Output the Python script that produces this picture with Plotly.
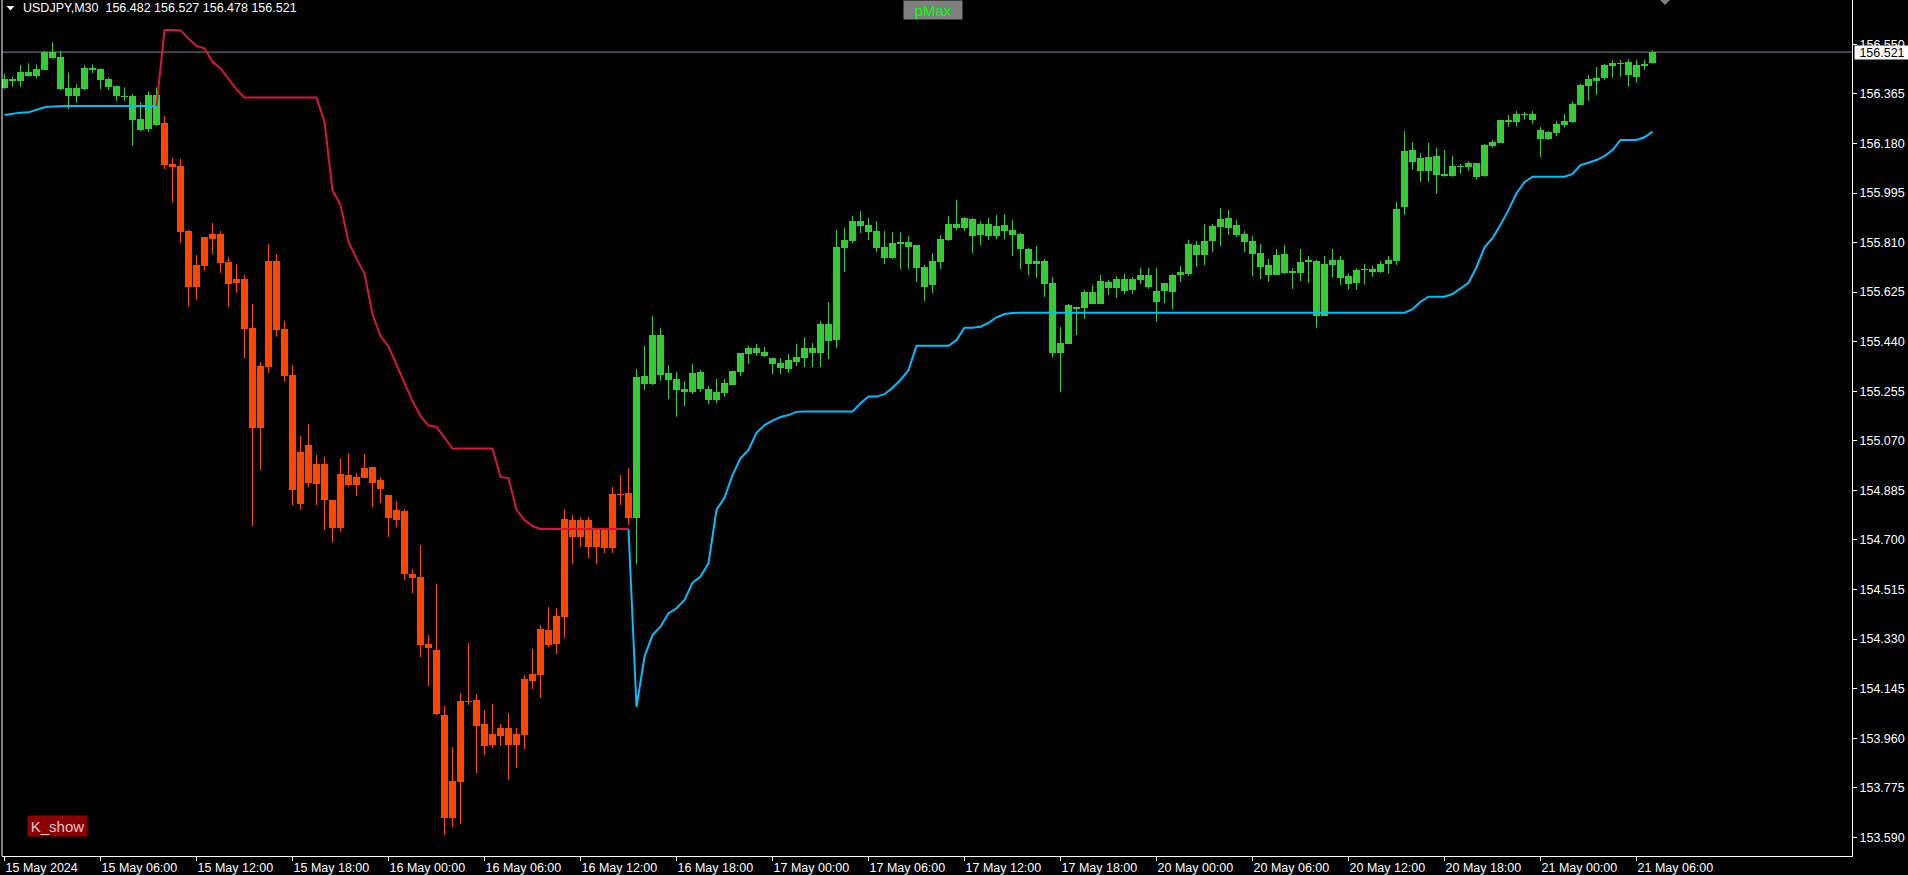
import plotly.graph_objects as go

# ---------------- data ----------------
symbol_text = "USDJPY,M30\u00a0\u00a0156.482 156.527 156.478 156.521"
bid_price = 156.521

opens = [
    156.386, 156.420, 156.414, 156.445, 156.433, 156.455, 156.520, 156.501, 156.386, 156.358,
    156.383, 156.460, 156.457, 156.419, 156.394, 156.358, 156.357, 156.271, 156.235, 156.361,
    156.256, 156.103, 156.096, 155.853, 155.645, 155.724, 155.823, 155.842, 155.737, 155.660,
    155.674, 155.491, 155.119, 155.347, 155.741, 155.487, 155.316, 154.834, 155.054, 154.909,
    154.983, 154.849, 154.746, 154.942, 154.905, 154.931, 154.972, 154.924, 154.868, 154.774,
    154.808, 154.573, 154.562, 154.311, 154.289, 154.046, 153.662, 153.796, 154.099, 154.102,
    154.013, 153.935, 153.968, 153.998, 153.935, 153.972, 154.173, 154.196, 154.364, 154.311,
    154.412, 154.774, 154.711, 154.774, 154.674, 154.741, 154.670, 154.871, 154.875, 154.783,
    155.312, 155.283, 155.465, 155.323, 155.301, 155.263, 155.252, 155.327, 155.263, 155.222,
    155.249, 155.278, 155.327, 155.394, 155.416, 155.401, 155.379, 155.360, 155.338, 155.364,
    155.379, 155.416, 155.398, 155.506, 155.446, 155.790, 155.816, 155.890, 155.875, 155.853,
    155.793, 155.752, 155.805, 155.812, 155.801, 155.719, 155.652, 155.737, 155.820, 155.879,
    155.864, 155.898, 155.838, 155.879, 155.834, 155.875, 155.857, 155.842, 155.786, 155.730,
    155.741, 155.659, 155.398, 155.431, 155.570, 155.566, 155.625, 155.581, 155.663, 155.640,
    155.674, 155.633, 155.670, 155.689, 155.629, 155.629, 155.625, 155.689, 155.693, 155.801,
    155.764, 155.816, 155.868, 155.902, 155.875, 155.842, 155.816, 155.771, 155.726, 155.689,
    155.767, 155.696, 155.696, 155.737, 155.742, 155.537, 155.727, 155.745, 155.685, 155.660,
    155.709, 155.711, 155.701, 155.731, 155.742, 155.944, 156.155, 156.126, 156.078, 156.133,
    156.066, 156.060, 156.097, 156.093, 156.107, 156.060, 156.171, 156.183, 156.267, 156.261,
    156.289, 156.290, 156.230, 156.197, 156.220, 156.250, 156.261, 156.325, 156.395, 156.414,
    156.425, 156.470, 156.480, 156.484, 156.429, 156.470, 156.482,
]
highs = [
    156.439, 156.429, 156.473, 156.479, 156.475, 156.525, 156.557, 156.525, 156.445, 156.401,
    156.473, 156.475, 156.460, 156.427, 156.394, 156.389, 156.364, 156.333, 156.373, 156.389,
    156.282, 156.127, 156.122, 155.857, 155.764, 155.831, 155.883, 155.853, 155.756, 155.729,
    155.689, 155.581, 155.364, 155.805, 155.767, 155.517, 155.353, 155.088, 155.133, 155.017,
    155.010, 154.849, 155.004, 155.024, 154.950, 155.021, 154.972, 154.935, 154.868, 154.845,
    154.815, 154.592, 154.681, 154.345, 154.536, 154.080, 153.927, 154.129, 154.315, 154.125,
    154.065, 154.088, 154.013, 154.054, 153.998, 154.196, 154.293, 154.382, 154.450, 154.446,
    154.815, 154.793, 154.786, 154.786, 154.741, 154.741, 154.898, 154.942, 154.968, 155.338,
    155.424, 155.536, 155.490, 155.353, 155.327, 155.293, 155.357, 155.334, 155.275, 155.301,
    155.301, 155.331, 155.398, 155.424, 155.431, 155.420, 155.379, 155.379, 155.394, 155.431,
    155.457, 155.435, 155.517, 155.588, 155.857, 155.864, 155.909, 155.928, 155.902, 155.890,
    155.853, 155.849, 155.849, 155.834, 155.801, 155.726, 155.771, 155.838, 155.909, 155.969,
    155.905, 155.902, 155.890, 155.902, 155.913, 155.917, 155.894, 155.846, 155.790, 155.797,
    155.749, 155.682, 155.495, 155.581, 155.570, 155.633, 155.652, 155.689, 155.670, 155.685,
    155.693, 155.682, 155.715, 155.715, 155.715, 155.659, 155.693, 155.722, 155.820, 155.816,
    155.879, 155.879, 155.939, 155.932, 155.894, 155.853, 155.834, 155.805, 155.749, 155.786,
    155.801, 155.715, 155.786, 155.760, 155.745, 155.760, 155.786, 155.760, 155.695, 155.714,
    155.730, 155.724, 155.741, 155.760, 155.961, 156.226, 156.185, 156.144, 156.182, 156.163,
    156.155, 156.133, 156.103, 156.114, 156.107, 156.178, 156.193, 156.267, 156.286, 156.301,
    156.297, 156.301, 156.241, 156.226, 156.264, 156.290, 156.338, 156.402, 156.435, 156.465,
    156.477, 156.491, 156.491, 156.495, 156.491, 156.491, 156.527,
]
lows = [
    156.384, 156.392, 156.392, 156.429, 156.422, 156.455, 156.496, 156.379, 156.307, 156.332,
    156.379, 156.442, 156.383, 156.379, 156.339, 156.339, 156.171, 156.227, 156.223, 156.245,
    156.085, 155.959, 155.809, 155.570, 155.596, 155.705, 155.766, 155.697, 155.570, 155.623,
    155.378, 154.752, 154.961, 155.324, 155.459, 155.291, 154.830, 154.812, 154.898, 154.830,
    154.737, 154.690, 154.731, 154.899, 154.864, 154.931, 154.823, 154.838, 154.711, 154.748,
    154.550, 154.502, 154.263, 154.155, 154.046, 153.599, 153.628, 153.640, 154.084, 153.830,
    153.897, 153.923, 153.931, 153.804, 153.849, 153.920, 154.144, 154.110, 154.300, 154.274,
    154.334, 154.610, 154.674, 154.632, 154.610, 154.651, 154.651, 154.830, 154.756, 154.609,
    155.260, 155.278, 155.294, 155.226, 155.160, 155.200, 155.245, 155.252, 155.207, 155.211,
    155.234, 155.278, 155.312, 155.357, 155.387, 155.383, 155.319, 155.319, 155.323, 155.349,
    155.345, 155.345, 155.345, 155.375, 155.416, 155.700, 155.808, 155.846, 155.820, 155.775,
    155.730, 155.749, 155.711, 155.711, 155.663, 155.592, 155.622, 155.711, 155.816, 155.857,
    155.853, 155.771, 155.801, 155.820, 155.823, 155.823, 155.760, 155.711, 155.689, 155.678,
    155.607, 155.380, 155.252, 155.431, 155.465, 155.525, 155.581, 155.581, 155.614, 155.603,
    155.618, 155.618, 155.655, 155.637, 155.514, 155.584, 155.562, 155.663, 155.685, 155.719,
    155.726, 155.775, 155.797, 155.838, 155.831, 155.775, 155.685, 155.674, 155.663, 155.689,
    155.693, 155.637, 155.666, 155.659, 155.492, 155.537, 155.679, 155.652, 155.634, 155.634,
    155.653, 155.682, 155.696, 155.694, 155.727, 155.914, 156.082, 156.037, 156.037, 155.992,
    156.056, 156.056, 156.067, 156.078, 156.045, 156.056, 156.164, 156.182, 156.242, 156.242,
    156.269, 156.254, 156.129, 156.193, 156.208, 156.239, 156.257, 156.325, 156.339, 156.362,
    156.418, 156.425, 156.429, 156.392, 156.407, 156.455, 156.478,
]
closes = [
    156.419, 156.414, 156.445, 156.433, 156.457, 156.520, 156.500, 156.383, 156.358, 156.386,
    156.460, 156.455, 156.417, 156.392, 156.358, 156.353, 156.269, 156.231, 156.361, 156.249,
    156.099, 156.093, 155.850, 155.645, 155.726, 155.831, 155.841, 155.735, 155.656, 155.674,
    155.488, 155.119, 155.349, 155.741, 155.484, 155.313, 154.886, 155.028, 154.912, 154.983,
    154.849, 154.746, 154.946, 154.905, 154.935, 154.968, 154.912, 154.890, 154.783, 154.812,
    154.573, 154.558, 154.308, 154.297, 154.050, 153.662, 153.800, 154.099, 154.095, 154.005,
    153.931, 153.976, 153.998, 153.935, 153.976, 154.181, 154.200, 154.367, 154.308, 154.416,
    154.778, 154.711, 154.774, 154.674, 154.741, 154.670, 154.871, 154.866, 154.782, 155.307,
    155.283, 155.465, 155.317, 155.298, 155.261, 155.252, 155.323, 155.263, 155.222, 155.252,
    155.286, 155.331, 155.398, 155.416, 155.398, 155.387, 155.357, 155.342, 155.372, 155.383,
    155.416, 155.398, 155.506, 155.443, 155.793, 155.820, 155.890, 155.872, 155.849, 155.790,
    155.752, 155.808, 155.812, 155.793, 155.715, 155.644, 155.741, 155.823, 155.879, 155.864,
    155.902, 155.834, 155.879, 155.834, 155.872, 155.853, 155.838, 155.786, 155.730, 155.741,
    155.655, 155.398, 155.435, 155.577, 155.562, 155.625, 155.581, 155.667, 155.640, 155.674,
    155.629, 155.674, 155.689, 155.644, 155.588, 155.659, 155.689, 155.700, 155.805, 155.764,
    155.816, 155.872, 155.898, 155.864, 155.838, 155.812, 155.767, 155.719, 155.689, 155.764,
    155.696, 155.704, 155.737, 155.745, 155.537, 155.730, 155.745, 155.679, 155.656, 155.708,
    155.711, 155.701, 155.730, 155.745, 155.935, 156.152, 156.112, 156.078, 156.129, 156.063,
    156.058, 156.096, 156.093, 156.107, 156.056, 156.174, 156.185, 156.267, 156.261, 156.290,
    156.286, 156.267, 156.198, 156.223, 156.252, 156.264, 156.327, 156.398, 156.420, 156.424,
    156.473, 156.480, 156.478, 156.437, 156.473, 156.476, 156.521,
]

# PMax trend state per bar (candle colour)
trend = ["up"] * 20 + ["down"] * 59 + ["up"] * 128

# PMax line while trend is up (cyan) / down (red)
pmax_up = [
    156.286, 156.291, 156.295, 156.296, 156.305, 156.315, 156.318, 156.320, 156.320, 156.320,
    156.320, 156.320, 156.320, 156.320, 156.320, 156.320, 156.320, 156.320, 156.320, 156.320,
] + [None] * 58 + [
    154.741, 154.077, 154.264, 154.345, 154.376, 154.426, 154.445, 154.476, 154.540, 154.563,
    154.613, 154.812, 154.858, 154.942, 155.005, 155.036, 155.100, 155.129, 155.145, 155.159,
    155.166, 155.178,
    155.179, 155.179, 155.179, 155.179, 155.179, 155.179, 155.179,
    155.210, 155.235, 155.235, 155.244, 155.268, 155.297, 155.334,
    155.425, 155.425, 155.425, 155.425, 155.425,
    155.446, 155.492, 155.492, 155.496, 155.510, 155.531, 155.543, 155.547,
    155.548, 155.548, 155.548, 155.548, 155.548, 155.548, 155.548, 155.548, 155.548, 155.548,
    155.548, 155.548, 155.548, 155.548, 155.548, 155.548, 155.548, 155.548, 155.548, 155.548,
    155.548, 155.548, 155.548, 155.548, 155.548, 155.548, 155.548, 155.548, 155.548, 155.548,
    155.548, 155.548, 155.548, 155.548, 155.548, 155.548, 155.548, 155.548, 155.548, 155.548,
    155.548, 155.548, 155.548, 155.548, 155.548, 155.548, 155.548, 155.548, 155.548,
    155.561, 155.589,
    155.608, 155.608, 155.608,
    155.618, 155.639, 155.660, 155.718, 155.792, 155.826, 155.876, 155.932, 155.994, 156.035,
    156.056, 156.056, 156.056, 156.056, 156.056,
    156.066, 156.099, 156.108, 156.118, 156.133, 156.155,
    156.193, 156.193, 156.193,
    156.203, 156.224,
]
pmax_dn = [None] * 19 + [
    156.320, 156.603, 156.603, 156.602, 156.572, 156.544, 156.535, 156.485, 156.460, 156.423,
    156.382,
    156.351, 156.351, 156.351, 156.351, 156.351, 156.351, 156.351, 156.351, 156.351, 156.351,
    156.260, 156.005, 155.950, 155.812, 155.750, 155.694, 155.543, 155.460, 155.422, 155.356,
    155.287, 155.218, 155.163, 155.127, 155.122, 155.080,
    155.041, 155.041, 155.041, 155.041, 155.041, 155.041,
    154.935, 154.931, 154.812, 154.774, 154.752,
    154.741, 154.741, 154.741, 154.741, 154.741, 154.741, 154.741, 154.741, 154.741, 154.741,
    154.741, 154.741,
] + [None] * 128

x_tick_bars = [0, 12, 24, 36, 48, 60, 72, 84, 96, 108, 120, 132, 144, 156, 168, 180, 192, 204]
x_tick_labels = [
    "15 May 2024", "15 May 06:00", "15 May 12:00", "15 May 18:00",
    "16 May 00:00", "16 May 06:00", "16 May 12:00", "16 May 18:00",
    "17 May 00:00", "17 May 06:00", "17 May 12:00", "17 May 18:00",
    "20 May 00:00", "20 May 06:00", "20 May 12:00", "20 May 18:00",
    "21 May 00:00", "21 May 06:00",
]
y_tick_values = [
    153.590, 153.775, 153.960, 154.145, 154.330, 154.515, 154.700, 154.885, 155.070,
    155.255, 155.440, 155.625, 155.810, 155.995, 156.180, 156.365, 156.550,
]

# ---------------- styling ----------------
GREEN = "#32CD32"
ORANGE = "#FF4500"
CYAN = "#00BFFF"
CRIMSON = "#DC143C"
FONT = "Liberation Sans"

n = len(closes)
bars = list(range(n))

fig = go.Figure()

for state, col in (("up", GREEN), ("down", ORANGE)):
    idx = [i for i in bars if trend[i] == state]
    base = [min(opens[i], closes[i]) for i in idx]
    hgt = [max(abs(closes[i] - opens[i]), 0.004) for i in idx]
    wx, wy = [], []
    for i in idx:
        wx += [i, i, None]
        wy += [lows[i], highs[i], None]
    fig.add_trace(go.Scatter(x=wx, y=wy, mode="lines", line=dict(color=col, width=1),
                             hoverinfo="skip", showlegend=False))
    fig.add_trace(go.Bar(x=idx, y=hgt, base=base, width=0.875,
                         marker=dict(color=col, line=dict(width=0)),
                         hoverinfo="skip", showlegend=False))

fig.add_trace(go.Scatter(x=bars, y=pmax_up, mode="lines", connectgaps=False,
                         line=dict(color=CYAN, width=2), hoverinfo="skip", showlegend=False))
fig.add_trace(go.Scatter(x=bars, y=pmax_dn, mode="lines", connectgaps=False,
                         line=dict(color=CRIMSON, width=2), hoverinfo="skip", showlegend=False))

W, H = 1908, 875
ML, MR, MT, MB = 2, 56, 0, 19
PW, PH = W - ML - MR, H - MT - MB


def px(xp):
    return (xp - ML) / PW


def py(yp):
    return 1 - (yp - MT) / PH


fig.update_layout(
    width=W, height=H, autosize=False,
    margin=dict(l=ML, r=MR, t=MT, b=MB, pad=0),
    paper_bgcolor="black", plot_bgcolor="black",
    barmode="overlay", bargap=0, showlegend=False, hovermode=False,
    font=dict(family=FONT, size=12.5, color="white"),
)
fig.update_xaxes(
    range=[-0.3125, -0.3125 + PW / 8.0],
    tickmode="array", tickvals=x_tick_bars, ticktext=x_tick_labels,
    ticks="outside", ticklen=4, tickwidth=1, tickcolor="white",
    ticklabelposition="outside right",
    showline=True, linecolor="white", linewidth=1,
    showgrid=False, zeroline=False, fixedrange=True,
    tickfont=dict(family=FONT, size=12.5, color="white"),
)
fig.update_yaxes(
    range=[153.5202, 156.7154], side="right",
    tickmode="array", tickvals=y_tick_values,
    ticktext=[f"{v:.3f}" for v in y_tick_values],
    ticks="outside", ticklen=4, tickwidth=1, tickcolor="white",
    showline=True, linecolor="white", linewidth=1,
    showgrid=False, zeroline=False, fixedrange=True,
    tickfont=dict(family=FONT, size=12.5, color="white"),
)

shapes = [
    # bid line
    dict(type="line", xref="paper", yref="y", x0=0, x1=1, y0=bid_price, y1=bid_price,
         line=dict(color="#778899", width=1), layer="below"),
    # left frame line
    dict(type="line", xref="paper", yref="paper", x0=0, x1=0, y0=0, y1=1,
         line=dict(color="white", width=1)),
    # header triangle
    dict(type="path", xref="paper", yref="paper",
         path=f"M {px(6.5)},{py(6)} L {px(14.5)},{py(6)} L {px(10.5)},{py(10.5)} Z",
         fillcolor="white", line=dict(width=0)),
    # chart shift marker
    dict(type="path", xref="paper", yref="paper",
         path=f"M {px(1660)},{py(0)} L {px(1670)},{py(0)} L {px(1665)},{py(5)} Z",
         fillcolor="#808080", line=dict(width=0)),
]
fig.update_layout(shapes=shapes)

annotations = [
    dict(xref="paper", yref="paper", x=px(21.5), y=1, xanchor="left", yanchor="top",
         text=symbol_text, showarrow=False, borderpad=0,
         font=dict(family=FONT, size=12.5, color="white")),
    dict(xref="paper", yref="paper", x=px(933), y=1, xanchor="center", yanchor="top",
         text="pMax", showarrow=False, borderpad=0, width=58, height=18,
         bgcolor="#808080", font=dict(family=FONT, size=15, color="#00FF00")),
    dict(xref="paper", yref="paper", x=px(57.5), y=py(826), xanchor="center", yanchor="middle",
         text="K_show", showarrow=False, borderpad=0, width=59, height=20,
         bgcolor="#8B0000", font=dict(family=FONT, size=15, color="#E0C8C8")),
    dict(xref="paper", yref="y", x=1, xshift=2, y=bid_price, xanchor="left", yanchor="middle",
         text=f"{bid_price:.3f}", showarrow=False, borderpad=0, width=54, height=13,
         bgcolor="white", font=dict(family=FONT, size=12.5, color="black")),
]
fig.update_layout(annotations=annotations)

fig.write_html(
    "out.html",
    config={"displayModeBar": False, "staticPlot": True},
    post_script="document.body.style.margin='0';document.body.style.overflow='hidden';",
)
